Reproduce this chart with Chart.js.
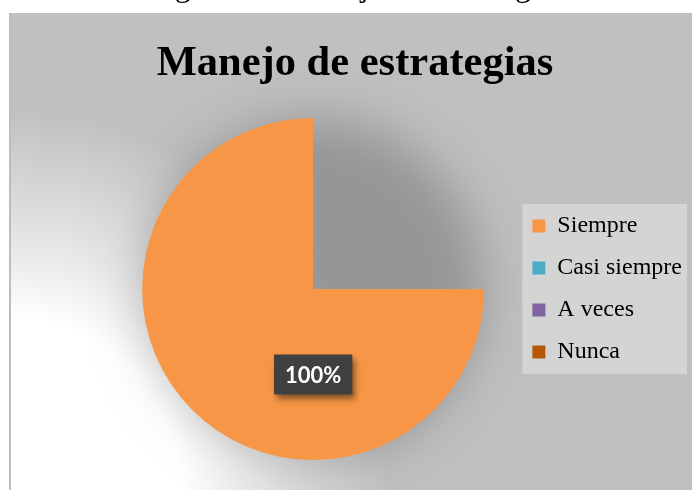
<!DOCTYPE html>
<html lang="es">
<head>
<meta charset="utf-8">
<title>Manejo de estrategias</title>
<script src="https://cdn.jsdelivr.net/npm/chart.js@4.4.1/dist/chart.umd.min.js"></script>
<style>
  html, body { margin: 0; padding: 0; background: #fff; overflow: hidden; }
  #wrap { position: relative; width: 692px; height: 490px; }
  #chart { position: absolute; left: 0; top: 0; }
  .caption {
    position: absolute; left: 148px; top: -31px;
    font: 32px/1 "Liberation Serif", "Times New Roman", serif;
    white-space: nowrap; color: #000;
  }
  .title {
    position: absolute; left: 10px; width: 690px; top: 40px;
    text-align: center; white-space: nowrap; color: #000;
    font: bold 42.5px/1 "Liberation Serif", "Times New Roman", serif;
  }
</style>
</head>
<body>
<div id="wrap">
  <canvas id="chart" width="692" height="490"></canvas>
  <div class="caption">Figura 12. Manejo de estrategias</div>
  <div class="title">Manejo de estrategias</div>
</div>
<script>
// data
const categories  = ["Siempre", "Casi siempre", "A veces", "Nunca"];
const percentages = [100, 0, 0, 0];
const sliceColors = ["#F79646", "#4BACC6", "#8064A2", "#B65708"];

// grey panel, white glow bottom-left, soft shadow under the pie, legend box
const backdrop = {
  id: "backdrop",
  beforeDraw(chart) {
    const ctx = chart.ctx;
    const W = chart.width, H = chart.height;
    ctx.save();
    ctx.fillStyle = "#fff";
    ctx.fillRect(0, 0, W, H);

    ctx.fillStyle = "#c0c0c0";
    ctx.fillRect(10, 13, W - 10, H - 13);
    const glow = ctx.createRadialGradient(10, H, 0, 10, H, 380);
    glow.addColorStop(0, "rgba(255,255,255,1)");
    glow.addColorStop(0.45, "rgba(255,255,255,1)");
    glow.addColorStop(0.6, "rgba(255,255,255,0.7)");
    glow.addColorStop(1, "rgba(255,255,255,0)");
    ctx.fillStyle = glow;
    ctx.fillRect(10, 13, W - 10, H - 13);
    ctx.fillStyle = "#bdbdbd";
    ctx.fillRect(9, 13, 2, H - 13);

    // shadow of the full circle (shape drawn off-canvas, only its shadow lands)
    const arc = chart.getDatasetMeta(0).data[0];
    ctx.shadowColor = "rgba(0,0,0,0.22)";
    ctx.shadowBlur = 50;
    ctx.shadowOffsetX = 3000;
    ctx.fillStyle = "#000";
    ctx.beginPath();
    ctx.arc(arc.x - 3000, arc.y, arc.outerRadius, 0, Math.PI * 2);
    ctx.fill();
    ctx.restore();

    const boxes = chart.legend.legendHitBoxes;
    if (boxes && boxes.length) {
      const first = boxes[0], last = boxes[boxes.length - 1];
      const x0 = first.left - 10, y0 = first.top - 10;
      ctx.save();
      ctx.fillStyle = "#d4d4d4";
      ctx.fillRect(x0, y0, chart.legend.right - 5 - x0, last.top + last.height + 10 - y0);
      ctx.restore();
    }
  }
};

// dark data label with drop shadow, placed below the centre
const valueLabel = {
  id: "valueLabel",
  afterDatasetsDraw(chart) {
    const ctx = chart.ctx;
    chart.getDatasetMeta(0).data.forEach((arc, i) => {
      if (!percentages[i]) return;
      const text = percentages[i] + "%";
      const cx = arc.x, cy = arc.y + arc.outerRadius / 2;
      ctx.save();
      ctx.font = "bold 22px Lato, 'Open Sans', sans-serif";
      const w = ctx.measureText(text).width + 22, h = 40;
      ctx.shadowColor = "rgba(0,0,0,0.45)";
      ctx.shadowBlur = 6;
      ctx.shadowOffsetX = 3;
      ctx.shadowOffsetY = 4;
      ctx.fillStyle = "#404040";
      ctx.fillRect(cx - w / 2, cy - h / 2, w, h);
      ctx.shadowColor = "transparent";
      ctx.fillStyle = "#fff";
      ctx.textAlign = "center";
      ctx.textBaseline = "middle";
      ctx.fillText(text, cx, cy + 1);
      ctx.restore();
    });
  }
};

new Chart(document.getElementById("chart"), {
  type: "pie",
  data: {
    labels: categories,
    datasets: [{
      data: percentages,
      backgroundColor: sliceColors,
      borderWidth: 0,
      hoverBorderWidth: 0,
      hoverOffset: 0,
      rotation: 90,
      circumference: 270
    }]
  },
  options: {
    responsive: false,
    animation: false,
    layout: { padding: { left: 112, top: 118, bottom: 30, right: 0 } },
    plugins: {
      title: { display: false },
      tooltip: { enabled: false },
      legend: {
        position: "right",
        labels: {
          boxWidth: 13,
          boxHeight: 13,
          padding: 18,
          color: "#000",
          font: { family: "'Liberation Serif', 'Times New Roman', serif", size: 24 }
        }
      }
    }
  },
  plugins: [backdrop, valueLabel]
});
</script>
</body>
</html>
